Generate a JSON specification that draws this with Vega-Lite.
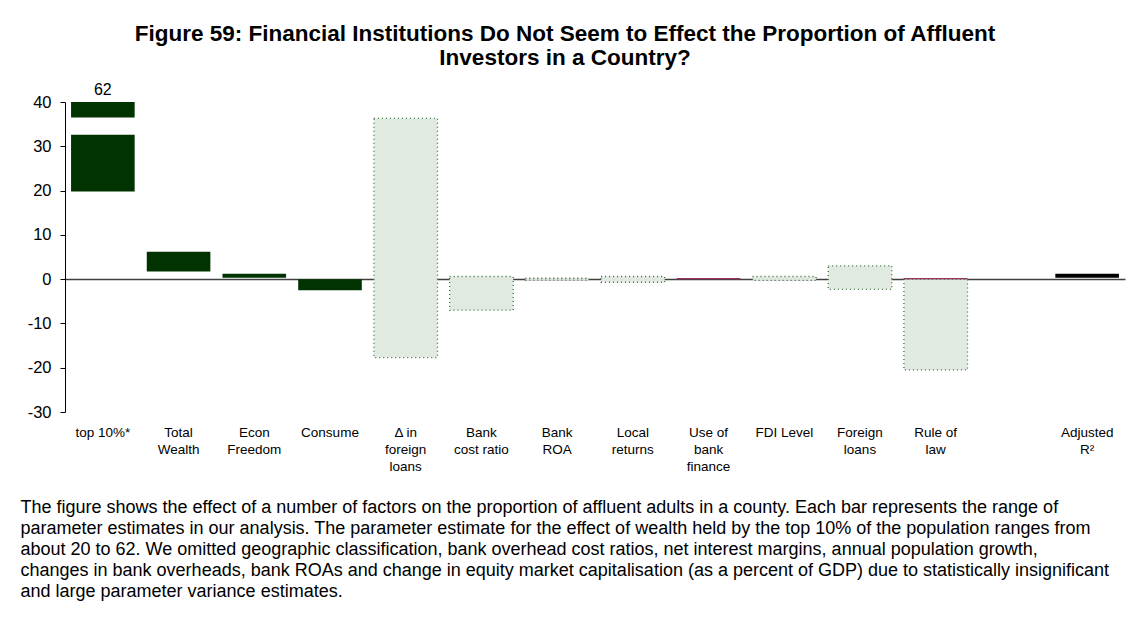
{
  "$schema": "https://vega.github.io/schema/vega-lite/v6.json",
  "width": 1060,
  "height": 310,
  "autosize": {"type": "none"},
  "padding": {"left": 65, "top": 102, "right": 5, "bottom": 229},
  "background": "white",
  "config": {"font": "Liberation Sans", "view": {"stroke": null}},
  "title": {
    "text": ["Figure 59: Financial Institutions Do Not Seem to Effect the Proportion of Affluent", "Investors in a Country?"],
    "fontSize": 22.5,
    "fontWeight": "bold",
    "color": "black",
    "lineHeight": 24,
    "anchor": "middle",
    "dx": -30,
    "offset": 13
  },
  "datasets": {
    "bars": [
      {"cat": "top 10%*", "lo": 19.8, "hi": 32.6, "kind": "solid"},
      {"cat": "top 10%*", "lo": 36.5, "hi": 40, "kind": "solid", "label": "62"},
      {"cat": "Total Wealth", "lo": 1.7, "hi": 6.2, "kind": "solid"},
      {"cat": "Econ Freedom", "lo": 0.3, "hi": 1.2, "kind": "solid"},
      {"cat": "Consume", "lo": -2.5, "hi": 0, "kind": "solid"},
      {"cat": "Δ in foreign loans", "lo": -17.7, "hi": 36.3, "kind": "dotted"},
      {"cat": "Bank cost ratio", "lo": -7, "hi": 0.6, "kind": "dotted"},
      {"cat": "Bank ROA", "lo": -0.2, "hi": 0.2, "kind": "dotted"},
      {"cat": "Local returns", "lo": -0.7, "hi": 0.6, "kind": "dotted"},
      {"cat": "Use of bank finance", "lo": 0, "hi": 0.25, "kind": "crimson"},
      {"cat": "FDI Level", "lo": -0.3, "hi": 0.6, "kind": "dotted"},
      {"cat": "Foreign loans", "lo": -2.3, "hi": 3.0, "kind": "dotted"},
      {"cat": "Rule of law", "lo": 0, "hi": 0.25, "kind": "crimson"},
      {"cat": "Rule of law", "lo": -20.5, "hi": 0, "kind": "dotted"},
      {"cat": "Adjusted R²", "lo": 0.3, "hi": 1.2, "kind": "black"}
    ],
    "cats": [
      {"cat": "top 10%*"}, {"cat": "Total Wealth"}, {"cat": "Econ Freedom"}, {"cat": "Consume"},
      {"cat": "Δ in foreign loans"}, {"cat": "Bank cost ratio"}, {"cat": "Bank ROA"}, {"cat": "Local returns"},
      {"cat": "Use of bank finance"}, {"cat": "FDI Level"}, {"cat": "Foreign loans"}, {"cat": "Rule of law"},
      {"cat": "gap"}, {"cat": "Adjusted R²"}
    ]
  },
  "encoding": {
    "x": {
      "field": "cat",
      "type": "nominal",
      "sort": null,
      "scale": {
        "type": "band",
        "domain": ["top 10%*", "Total Wealth", "Econ Freedom", "Consume", "Δ in foreign loans", "Bank cost ratio", "Bank ROA", "Local returns", "Use of bank finance", "FDI Level", "Foreign loans", "Rule of law", "gap", "Adjusted R²"],
        "paddingInner": 0,
        "paddingOuter": 0
      },
      "axis": {
        "title": [
          "The figure shows the effect of a number of factors on the proportion of affluent adults in a county. Each bar represents the range of",
          "parameter estimates in our analysis. The parameter estimate for the effect of wealth held by the top 10% of the population ranges from",
          "about 20 to 62.  We omitted geographic classification, bank overhead cost ratios, net interest margins, annual population growth,",
          "changes in bank overheads, bank ROAs and change in equity market capitalisation (as a percent of GDP) due to statistically insignificant",
          "and large parameter variance estimates."
        ],
        "titleFontSize": 18,
        "titleFontWeight": "normal",
        "titleColor": "black",
        "titleAlign": "left",
        "titleAnchor": "start",
        "titleBaseline": "top",
        "titleAngle": 0,
        "titleX": -45,
        "titleY": 86,
        "titleLineHeight": 21,
        "titleLimit": 0,
        "domain": false,
        "ticks": false,
        "labelFontSize": 13.5,
        "labelColor": "black",
        "labelPadding": 13,
        "labelLineHeight": 17,
        "labelAngle": 0,
        "labelBaseline": "top",
        "labelLimit": 0,
        "labelExpr": "datum.label == 'Bank cost ratio' ? ['Bank', 'cost ratio'] : datum.label == 'Rule of law' ? ['Rule of', 'law'] : datum.label == 'Use of bank finance' ? ['Use of', 'bank', 'finance'] : datum.label == 'Δ in foreign loans' ? ['Δ in', 'foreign', 'loans'] : datum.label == 'gap' ? '' : (datum.label == 'FDI Level' || datum.label == 'top 10%*') ? datum.label : split(datum.label, ' ')"
      }
    },
    "y": {
      "field": "lo",
      "type": "quantitative",
      "scale": {"domain": [-30, 40], "nice": false, "zero": false},
      "axis": {
        "title": null,
        "values": [-30, -20, -10, 0, 10, 20, 30, 40],
        "labelExpr": "'' + datum.value",
        "domainColor": "black",
        "tickColor": "black",
        "tickSize": 5,
        "labelFontSize": 16.5,
        "labelColor": "black",
        "labelPadding": 9,
        "grid": true,
        "gridColor": "#404040",
        "gridWidth": 1.5,
        "gridOpacity": {"condition": {"test": "datum.value === 0", "value": 1}, "value": 0}
      }
    }
  },
  "layer": [
    {
      "data": {"name": "bars"},
      "transform": [{"filter": "datum.kind === 'dotted'"}],
      "mark": {"type": "bar", "width": {"band": 0.84}, "fill": "#e1eae1", "stroke": "#3b6e3b", "strokeDash": [1, 3], "strokeWidth": 1.3},
      "encoding": {"y2": {"field": "hi"}}
    },
    {
      "data": {"name": "bars"},
      "transform": [{"filter": "datum.kind !== 'dotted'"}],
      "mark": {"type": "bar", "width": {"band": 0.84}},
      "encoding": {
        "y2": {"field": "hi"},
        "color": {
          "field": "kind",
          "type": "nominal",
          "scale": {"domain": ["solid", "crimson", "black"], "range": ["#003300", "#993366", "#000000"]},
          "legend": null
        }
      }
    },
    {
      "data": {"name": "cats"},
      "mark": {"type": "rule", "color": "#303030", "strokeWidth": 1.2},
      "encoding": {
        "x": {"field": "cat", "type": "nominal", "bandPosition": 1},
        "y": {"datum": 0},
        "y2": {"datum": -1}
      }
    },
    {
      "data": {"name": "bars"},
      "transform": [{"filter": "datum.label != null"}],
      "mark": {"type": "text", "baseline": "bottom", "dy": -4, "fontSize": 16, "color": "black"},
      "encoding": {
        "y": {"field": "hi", "type": "quantitative"},
        "text": {"field": "label"}
      }
    }
  ]
}
